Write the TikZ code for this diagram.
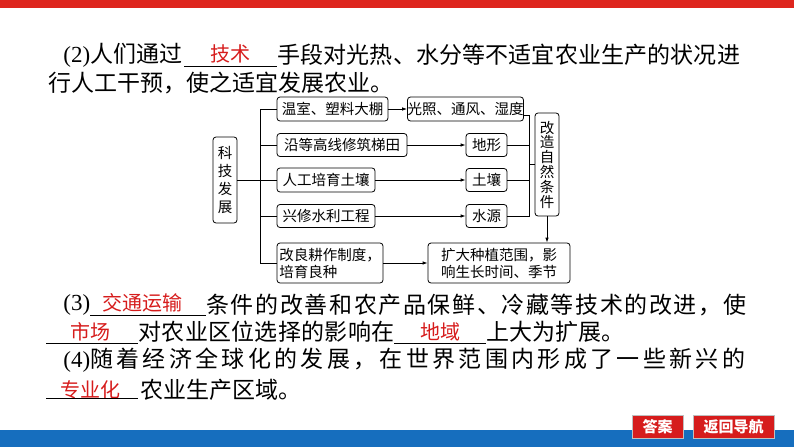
\documentclass[tikz,border=0pt]{standalone}
\usepackage{fontspec}
\setmainfont{Liberation Serif}
\newfontfamily\cjk{Noto Sans CJK SC}
\usetikzlibrary{arrows.meta}
\definecolor{barred}{RGB}{222,38,30}
\definecolor{barblue}{RGB}{22,110,190}
\definecolor{ansred}{RGB}{214,28,28}

\begin{document}
\begin{tikzpicture}[x=1pt, y=-1pt, line width=0.8pt,
  box/.style = {draw, rounded corners=3pt, inner sep=0pt, font=\cjk\fontsize{14.5}{17}\selectfont, align=center},
  txt/.style = {anchor=west, inner sep=0pt, font=\cjk\fontsize{23}{23}\selectfont},
  ans/.style = {inner sep=0pt, text=ansred, font=\cjk\fontsize{20}{20}\selectfont},
  arr/.style = {-{Latex[length=5pt, width=3.5pt]}},
  btn/.style = {fill=ansred, draw=black!25, inner sep=0pt, text=white, font=\cjk\bfseries\fontsize{15}{15}\selectfont}]
  \useasboundingbox (0,0) rectangle (794,447);
  \fill[barred] (0,0) rectangle (794,8);
  \fill[barblue] (0,430) rectangle (794,447);

  % text (2)
  \node[txt] (l1a) at (63,55) {{\rmfamily(2)}人们通过};
  \node[ans] (a1) at (230,54) {技术};
  \node[txt] (l1b) at (277,55) {\addfontfeature{LetterSpace=0.6}手段对光热、水分等不适宜农业生产的状况进};
  \node[txt] (l2) at (48,83) {行人工干预，使之适宜发展农业。};
  \draw[line width=0.7pt] (184,66) -- (277,66);

  % diagram
  \node[box, minimum width=24, minimum height=86, font=\cjk\fontsize{14.5}{18.3}\selectfont] (kj) at (225,180) {科\\技\\发\\展};
  \node[box, minimum width=111, minimum height=24] (wenshi) at (332.5,109) {温室、塑料大棚};
  \node[box, minimum width=130, minimum height=23] (titian) at (342,145) {沿等高线修筑梯田};
  \node[box, minimum width=98, minimum height=24] (turang1) at (326,180) {人工培育土壤};
  \node[box, minimum width=98, minimum height=23] (shuili) at (326,216) {兴修水利工程};
  \node[box, minimum width=106, minimum height=40, align=left] (gengzuo) at (330,263) {改良耕作制度，\\培育良种};
  \node[box, minimum width=115, minimum height=24] (guangzhao) at (465.5,109) {光照、通风、湿度};
  \node[box, minimum width=41, minimum height=23] (dixing) at (486.5,145) {地形};
  \node[box, minimum width=41, minimum height=23] (turang2) at (486.5,180) {土壤};
  \node[box, minimum width=41, minimum height=23] (shuiyuan) at (486.5,216) {水源};
  \node[box, minimum width=24, minimum height=103, font=\cjk\fontsize{14.5}{14.8}\selectfont] (gaizao) at (547,164.5) {改\\造\\自\\然\\条\\件};
  \node[box, minimum width=142, minimum height=40] (kuoda) at (499,263) {扩大种植范围，影\\响生长时间、季节};

  \coordinate (trunk) at (260,180);
  \coordinate (brk) at (529,164.5);
  \draw (kj) -- (trunk);
  \draw (trunk |- wenshi) -- (trunk |- gengzuo);
  \foreach \n in {wenshi, titian, turang1, shuili, gengzuo}
    \draw (trunk |- \n) -- (\n);
  \draw[arr] (wenshi) -- (guangzhao);
  \draw[arr] (titian) -- (dixing);
  \draw[arr] (turang1) -- (turang2);
  \draw[arr] (shuili) -- (shuiyuan);
  \draw[arr] (gengzuo) -- (kuoda);
  \draw ([yshift=-6pt]guangzhao.east) -| (brk |- shuiyuan) -- (shuiyuan);
  \draw (dixing) -- (brk |- dixing);
  \draw (turang2) -- (brk |- turang2);
  \draw (brk) -- (gaizao);
  \draw[arr] (gaizao) -- (gaizao |- kuoda.north);

  % text (3)
  \node[txt] (l3a) at (63,305) {{\rmfamily(3)}};
  \node[ans] (a2) at (142,303) {交通运输};
  \node[txt] (l3b) at (206,305) {\addfontfeature{LetterSpace=7}条件的改善和农产品保鲜、冷藏等技术的改进，使};
  \draw[line width=0.7pt] (90,315) -- (206,315);
  \node[ans] (a3) at (90,332) {市场};
  \node[txt] (l4a) at (138,332) {\addfontfeature{LetterSpace=1.3}对农业区位选择的影响在};
  \node[ans] (a4) at (440,332) {地域};
  \node[txt] (l4b) at (486,332) {上大为扩展。};
  \draw[line width=0.7pt] (46,343) -- (138,343);
  \draw[line width=0.7pt] (394,343) -- (486,343);

  % text (4)
  \node[txt] (l5) at (63,360) {{\rmfamily(4)}\addfontfeature{LetterSpace=14.5}随着经济全球化的发展，在世界范围内形成了一些新兴的};
  \node[ans] (a5) at (90,390) {专业化};
  \node[txt] (l6) at (140,390) {农业生产区域。};
  \draw[line width=0.7pt] (46,398) -- (138,398);

  % buttons
  \node[btn, minimum width=51, minimum height=23] (daan) at (657.5,426.5) {答案};
  \node[btn, minimum width=81, minimum height=23] (fanhui) at (733.5,426.5) {返回导航};
\end{tikzpicture}
\end{document}
